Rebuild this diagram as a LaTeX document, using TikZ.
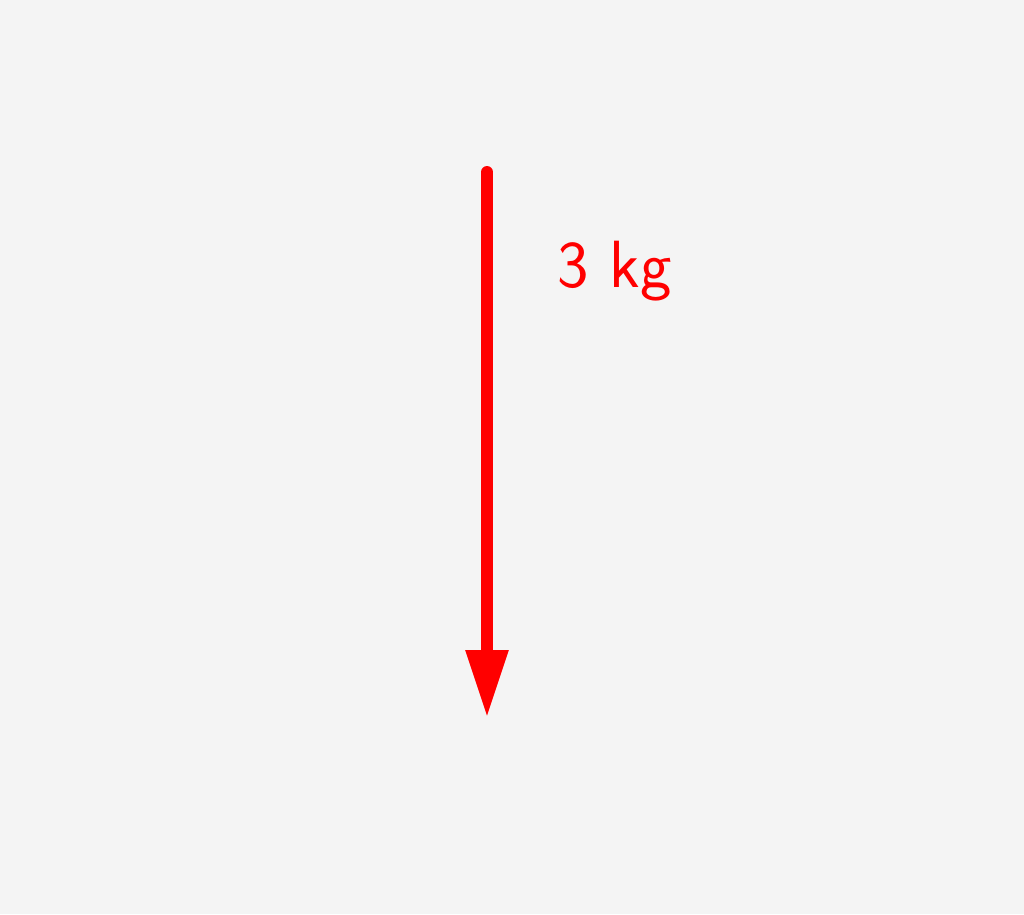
\documentclass[tikz,border=0pt]{standalone}
\usepackage{tikz}
\usetikzlibrary{arrows.meta}
\definecolor{bggray}{RGB}{244,244,244}
\definecolor{forcered}{RGB}{255,0,0}

\begin{document}
\begin{tikzpicture}[every node/.style={transform shape}]
\fill [bggray] (0,0) rectangle (10.24,9.14);
\useasboundingbox (0,0) rectangle (10.24,9.14);
\path (4.87,7.42) coordinate (top);
\path (4.87,1.96) coordinate (tip);
\path (5.57,6.27) node (mass) [anchor=base west,inner sep=0pt,text=forcered] {\fontsize{19}{23}\selectfont\sffamily 3 kg};

\draw [forcered,line width=3.4pt,line cap=round,-{Triangle[length=6.8mm,width=4mm,sharp,line cap=butt,line join=miter]}] (top) to (tip);
\end{tikzpicture}
\end{document}
